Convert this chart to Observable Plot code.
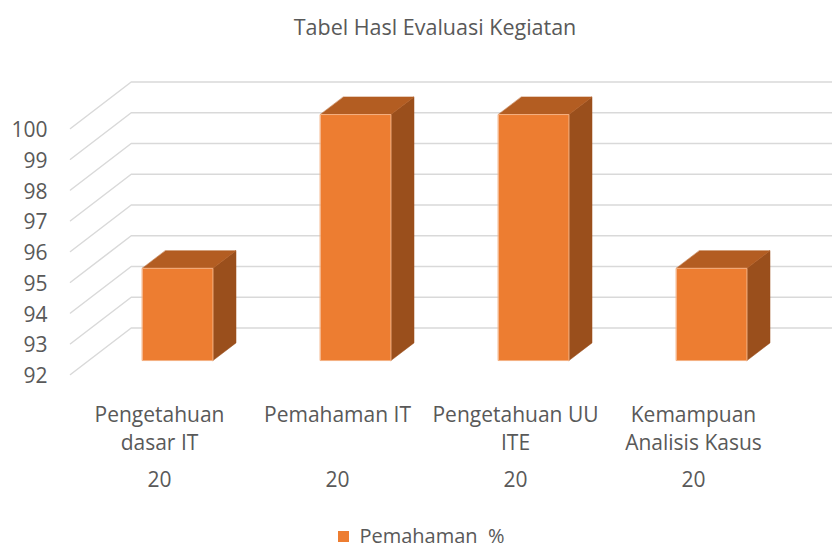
<!DOCTYPE html>
<html>
<head>
<meta charset="utf-8">
<script src="https://cdn.jsdelivr.net/npm/d3@7"></script>
<script src="https://cdn.jsdelivr.net/npm/@observablehq/plot@0.6"></script>
<style>
  html, body { margin: 0; padding: 0; background: #fff; }
  body { width: 832px; height: 548px; overflow: hidden; font-family: "Open Sans", sans-serif; color: #595959; }
  #subtitle { height: 50px; box-sizing: border-box; padding-top: 16px; padding-left: 38px; text-align: center; font-size: 21.5px; line-height: 1; white-space: pre; }
  #chart svg { display: block; }
  #legend { height: 38px; box-sizing: border-box; padding-top: 19px; padding-left: 11px; display: flex; justify-content: center; align-items: flex-start; font-size: 20px; line-height: 14px; white-space: pre; }
  #legend .sw { display: inline-block; width: 11px; height: 11px; background: #ED7D31; margin-top: 2px; margin-right: 10px; }
</style>
</head>
<body>
<div id="subtitle">Tabel Hasl Evaluasi Kegiatan</div>
<div id="chart"></div>
<div id="legend"><span class="sw"></span><span id="legendText"></span></div>
<script>
// ---- data ----
const categories = ["Pengetahuan\ndasar IT", "Pemahaman IT", "Pengetahuan UU\nITE", "Kemampuan\nAnalisis Kasus"];
const subLabels = ["20", "20", "20", "20"];
const values = [95, 100, 100, 95];
const yTicks = [92, 93, 94, 95, 96, 97, 98, 99, 100];
const seriesName = "Pemahaman  %";

document.getElementById("legendText").textContent = seriesName;

// ---- 3D projection helpers (depth expressed in data units) ----
const BASE = 92;
const DX = 0.341, DY = 1.512;   // full wall depth offset
const D0 = 0.30, D1 = 0.68;     // bar front/back depth
const HW = 0.198;               // bar half width (category units)
const P = (x, y, d, id) => ({x: x + d * DX, y: y + d * DY, id});

const gridPts = [];
yTicks.forEach((v, k) => {
  gridPts.push(P(-0.5, v, 0, k), P(-0.5, v, 1, k), P(categories.length - 0.5, v, 1, k));
});

const frontFaces = [], topFaces = [], sideFaces = [];
values.forEach((v, i) => {
  frontFaces.push(P(i - HW, BASE, D0, i), P(i + HW, BASE, D0, i), P(i + HW, v, D0, i), P(i - HW, v, D0, i));
  topFaces.push(P(i - HW, v, D0, i), P(i + HW, v, D0, i), P(i + HW, v, D1, i), P(i - HW, v, D1, i));
  sideFaces.push(P(i + HW, BASE, D0, i), P(i + HW, BASE, D1, i), P(i + HW, v, D1, i), P(i + HW, v, D0, i));
});

const tickData = yTicks.map(v => ({x: -0.5, v, label: String(v)}));
const catData = categories.map((c, i) => ({x: i, y: BASE, label: c, sub: subLabels[i]}));

const chart = Plot.plot({
  width: 832,
  height: 460,
  margin: 0,
  style: {fontFamily: "Open Sans", fontSize: "21px", color: "#595959", background: "white", overflow: "visible"},
  x: {type: "linear", domain: [-0.5, categories.length - 0.5], range: [70, 782], axis: null},
  y: {type: "linear", domain: [92, 100], range: [324, 78], axis: null},
  marks: [
    Plot.line(gridPts, {x: "x", y: "y", z: "id", stroke: "#D9D9D9", strokeWidth: 1.5}),
    Plot.line(sideFaces, {x: "x", y: "y", z: "id", curve: "linear-closed", fill: "#9A4F1C", stroke: "#9A4F1C", strokeWidth: 0.5}),
    Plot.line(topFaces, {x: "x", y: "y", z: "id", curve: "linear-closed", fill: "#B35D22", stroke: "#B35D22", strokeWidth: 0.5}),
    Plot.line(frontFaces, {x: "x", y: "y", z: "id", curve: "linear-closed", fill: "#ED7D31", stroke: "#F4B183", strokeWidth: 1}),
    Plot.text(tickData, {x: "x", y: "v", text: "label", textAnchor: "end", dx: -23, dy: 2, fontSize: 21}),
    Plot.text(catData, {x: "x", y: "y", text: "label", lineAnchor: "top", lineHeight: 1.33, dy: 28, fontSize: 21}),
    Plot.text(catData, {x: "x", y: "y", text: "sub", lineAnchor: "top", dy: 98, fontSize: 21})
  ]
});
document.getElementById("chart").appendChild(chart);
</script>
</body>
</html>
